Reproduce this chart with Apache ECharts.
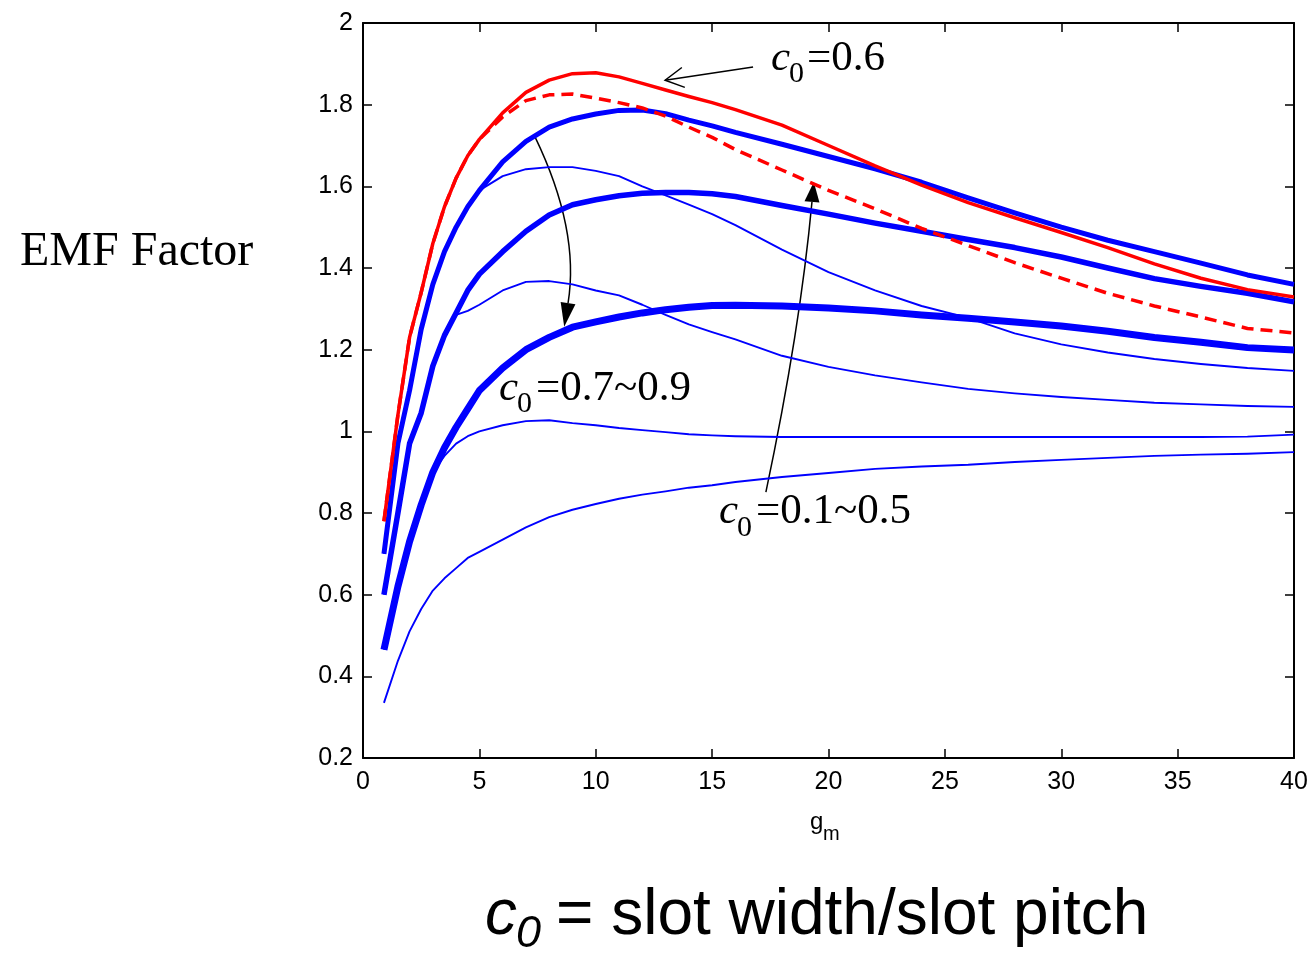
<!DOCTYPE html>
<html>
<head>
<meta charset="utf-8">
<script src="https://cdn.jsdelivr.net/npm/echarts@6/dist/echarts.min.js"></script>
<style>
html, body { margin: 0; padding: 0; background: #fff; }
#chart { width: 1316px; height: 959px; }
</style>
</head>
<body>
<div id="chart"></div>
<script>
// g_m sample points
var gm = [0.9, 1.5, 2, 2.5, 3, 3.5, 4, 4.5, 5, 6, 7, 8, 9, 10, 11, 12, 13, 14, 15, 16, 18, 20, 22, 24, 26, 28, 30, 32, 34, 36, 38, 40];

// c0 = 0.6 (red solid / red dashed)
var red06 = [0.78, 1.04, 1.23, 1.34, 1.46, 1.55, 1.62, 1.675, 1.715, 1.78, 1.83, 1.86, 1.876, 1.878, 1.868, 1.852, 1.836, 1.82, 1.805, 1.788, 1.75, 1.70, 1.65, 1.603, 1.56, 1.523, 1.487, 1.45, 1.41, 1.375, 1.347, 1.329];
var red06dash = [0.78, 1.04, 1.23, 1.34, 1.46, 1.55, 1.62, 1.675, 1.715, 1.77, 1.81, 1.824, 1.826, 1.816, 1.805, 1.792, 1.772, 1.745, 1.72, 1.69, 1.64, 1.59, 1.545, 1.497, 1.455, 1.413, 1.375, 1.338, 1.307, 1.28, 1.252, 1.241];

// c0 = 0.7 ~ 0.9 (thick blue)
var blue07 = [0.70, 0.97, 1.10, 1.25, 1.36, 1.44, 1.50, 1.55, 1.59, 1.66, 1.71, 1.745, 1.765, 1.777, 1.786, 1.787, 1.778, 1.762, 1.748, 1.732, 1.703, 1.673, 1.643, 1.61, 1.572, 1.535, 1.50, 1.468, 1.44, 1.412, 1.383, 1.36];
var blue08 = [0.60, 0.80, 0.97, 1.045, 1.16, 1.235, 1.29, 1.345, 1.385, 1.44, 1.49, 1.53, 1.555, 1.567, 1.577, 1.583, 1.585, 1.585, 1.582, 1.575, 1.553, 1.532, 1.51, 1.49, 1.47, 1.45, 1.427, 1.40, 1.374, 1.355, 1.338, 1.317];
var blue09 = [0.465, 0.62, 0.73, 0.82, 0.90, 0.96, 1.01, 1.055, 1.10, 1.155, 1.20, 1.23, 1.255, 1.268, 1.28, 1.29, 1.298, 1.304, 1.308, 1.309, 1.307, 1.302, 1.295, 1.285, 1.277, 1.268, 1.258, 1.245, 1.23, 1.218, 1.205, 1.199];

// c0 = 0.1 ~ 0.5 (thin blue)
var thinA = [0.70, 0.97, 1.10, 1.25, 1.36, 1.44, 1.50, 1.55, 1.59, 1.625, 1.642, 1.647, 1.647, 1.638, 1.625, 1.60, 1.578, 1.555, 1.532, 1.505, 1.445, 1.39, 1.345, 1.307, 1.278, 1.24, 1.213, 1.193, 1.177, 1.165, 1.155, 1.148];
var thinB = [0.60, 0.80, 0.97, 1.045, 1.16, 1.235, 1.285, 1.295, 1.31, 1.345, 1.366, 1.368, 1.36, 1.345, 1.333, 1.31, 1.285, 1.262, 1.243, 1.225, 1.185, 1.158, 1.137, 1.12, 1.104, 1.093, 1.084, 1.077, 1.07, 1.066, 1.062, 1.06];
var thinC = [0.465, 0.62, 0.73, 0.82, 0.90, 0.94, 0.97, 0.988, 1.0, 1.015, 1.025, 1.027, 1.02, 1.015, 1.008, 1.003, 0.998, 0.993, 0.99, 0.988, 0.986, 0.986, 0.986, 0.986, 0.986, 0.986, 0.986, 0.986, 0.986, 0.986, 0.987, 0.992];
var thinD = [0.335, 0.438, 0.51, 0.565, 0.61, 0.64, 0.665, 0.69, 0.705, 0.735, 0.765, 0.79, 0.808, 0.822, 0.835, 0.845, 0.853, 0.862, 0.868, 0.876, 0.888, 0.898, 0.908, 0.914, 0.918, 0.925, 0.93, 0.935, 0.94, 0.943, 0.945, 0.949];

var chart = echarts.init(document.getElementById('chart'));

function pairs(arr) {
    return gm.map(function (g, i) { return [g, arr[i]]; });
}
function line(arr, color, width, type) {
    return {
        type: 'line',
        data: pairs(arr),
        showSymbol: false,
        silent: true,
        lineStyle: { color: color, width: width, type: type || 'solid', cap: 'butt', join: 'round' }
    };
}

var tickStyle = { inside: true, length: 9, lineStyle: { color: '#000', width: 1.5 } };
var axisLineStyle = { show: true, onZero: false, lineStyle: { color: '#000', width: 2 } };
var labelStyle = { color: '#000', fontSize: 25, fontFamily: 'Liberation Sans' };

chart.setOption({
    animation: false,
    grid: { left: 363, right: 22, top: 23, bottom: 201, containLabel: false, outerBoundsMode: 'none' },
    xAxis: [
        { type: 'value', min: 0, max: 40, interval: 5, position: 'bottom',
          axisLine: axisLineStyle, axisTick: tickStyle, splitLine: { show: false },
          axisLabel: Object.assign({ margin: 12 }, labelStyle) },
        { type: 'value', min: 0, max: 40, interval: 5, position: 'top',
          axisLine: axisLineStyle, axisTick: tickStyle, splitLine: { show: false },
          axisLabel: { show: false } }
    ],
    yAxis: [
        { type: 'value', min: 0.2, max: 2, interval: 0.2, position: 'left',
          axisLine: axisLineStyle, axisTick: tickStyle, splitLine: { show: false },
          axisLabel: Object.assign({ margin: 10 }, labelStyle) },
        { type: 'value', min: 0.2, max: 2, interval: 0.2, position: 'right',
          axisLine: axisLineStyle, axisTick: tickStyle, splitLine: { show: false },
          axisLabel: { show: false } }
    ],
    series: [
        line(thinD, '#0000ff', 1.9),
        line(thinC, '#0000ff', 1.9),
        line(thinB, '#0000ff', 1.9),
        line(thinA, '#0000ff', 1.9),
        line(blue09, '#0000ff', 7),
        line(blue08, '#0000ff', 5.5),
        line(blue07, '#0000ff', 5),
        line(red06dash, '#ff0000', 3.5, [12, 7]),
        line(red06, '#ff0000', 3.5)
    ]
});

// annotations
function P(pt) { return chart.convertToPixel({ xAxisIndex: 0, yAxisIndex: 0 }, pt); }

var graphics = [];
var ink = '#000';

function txt(s, x, y, font) {
    graphics.push({ type: 'text', silent: true, style: {
        text: s, x: x, y: y, font: font, fill: ink,
        align: 'left', verticalAlign: 'middle', textAlign: 'left', textVerticalAlign: 'middle' } });
}
function headTri(end, from, len, half) {
    var dx = end[0] - from[0], dy = end[1] - from[1];
    var d = Math.sqrt(dx * dx + dy * dy); dx /= d; dy /= d;
    var tip = [end[0] + dx * len, end[1] + dy * len];
    graphics.push({ type: 'polygon', silent: true,
        shape: { points: [tip, [end[0] - dy * half, end[1] + dx * half], [end[0] + dy * half, end[1] - dx * half]] },
        style: { fill: ink } });
}
function curvedArrow(pts, len, half) {
    var a = P(pts[0]), c = P(pts[1]), b = P(pts[2]);
    graphics.push({ type: 'bezierCurve', silent: true,
        shape: { x1: a[0], y1: a[1], cpx1: c[0], cpy1: c[1], x2: b[0], y2: b[1] },
        style: { stroke: ink, lineWidth: 1.5, fill: null } });
    headTri(b, c, len, half);
}

// arrow to c0=0.6 curve (open head)
var tail06 = P([16.76, 1.892]), tip06 = P([12.98, 1.860]);
graphics.push({ type: 'line', silent: true,
    shape: { x1: tail06[0], y1: tail06[1], x2: tip06[0], y2: tip06[1] },
    style: { stroke: ink, lineWidth: 1.5 } });
(function () {
    var dx = tail06[0] - tip06[0], dy = tail06[1] - tip06[1];
    var ang = Math.atan2(dy, dx), L = 21, spread = 0.5;
    var p1 = [tip06[0] + L * Math.cos(ang + spread), tip06[1] + L * Math.sin(ang + spread)];
    var p2 = [tip06[0] + L * Math.cos(ang - spread), tip06[1] + L * Math.sin(ang - spread)];
    graphics.push({ type: 'polyline', silent: true, shape: { points: [p1, tip06, p2] },
        style: { stroke: ink, lineWidth: 1.5, fill: null } });
})();

curvedArrow([[7.39, 1.721], [9.32, 1.493], [8.81, 1.314]], 24, 7.5);
curvedArrow([[17.31, 0.851], [18.78, 1.248], [19.29, 1.562]], 20, 7.5);

var serifI = 'italic 43px "Liberation Serif"', serif = '43px "Liberation Serif"', subF = '30px "Liberation Serif"';
txt('c', 771, 59, serifI); txt('0', 789, 74, subF); txt('=0.6', 807, 59, serif);
txt('c', 499, 388.5, serifI); txt('0', 517, 404, subF); txt('=0.7~0.9', 536, 388.5, serif);
txt('c', 719, 511.5, serifI); txt('0', 737, 528, subF); txt('=0.1~0.5', 756, 511.5, serif);

txt('EMF Factor', 20, 252, '48px "Liberation Serif"');
txt('g', 810, 822, '24px "Liberation Sans"');
txt('m', 823, 834, '20px "Liberation Sans"');

txt('c', 485, 916, 'italic 64px "Liberation Sans"');
txt('0', 516, 934, 'italic 45px "Liberation Sans"');
txt('= slot width/slot pitch', 556, 916, '64px "Liberation Sans"');

chart.setOption({ graphic: { elements: graphics } });
</script>
</body>
</html>
